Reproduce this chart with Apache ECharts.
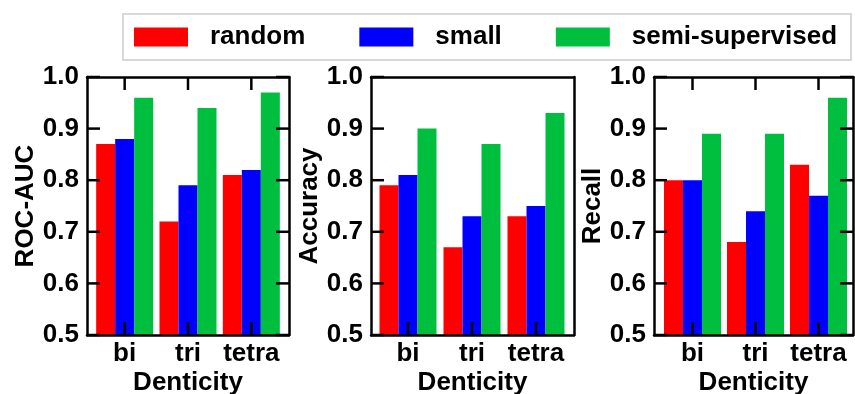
<!DOCTYPE html>
<html>
<head>
<meta charset="utf-8">
<script src="https://cdn.jsdelivr.net/npm/echarts@6/dist/echarts.min.js"></script>
<style>
  html, body { margin: 0; padding: 0; background: #fff; }
  #chart { width: 855px; height: 394px; }
</style>
</head>
<body>
<div id="chart"></div>
<script>
// data
const categories = ['bi', 'tri', 'tetra'];
const seriesNames = ['random', 'small', 'semi-supervised'];
const metricNames = ['ROC-AUC', 'Accuracy', 'Recall'];
const xLabel = 'Denticity';
const yTicks = [0.5, 0.6, 0.7, 0.8, 0.9, 1.0];

const rocRandom = [0.87, 0.72, 0.81];
const rocSmall = [0.88, 0.79, 0.82];
const rocSemi = [0.96, 0.94, 0.97];

const accRandom = [0.79, 0.67, 0.73];
const accSmall = [0.81, 0.73, 0.75];
const accSemi = [0.90, 0.87, 0.93];

const recRandom = [0.80, 0.68, 0.83];
const recSmall = [0.80, 0.74, 0.77];
const recSemi = [0.89, 0.89, 0.96];

const yMin = 0.5, yMax = 1.0, yStep = 0.1;

const panels = [
  [rocRandom, rocSmall, rocSemi],
  [accRandom, accSmall, accSemi],
  [recRandom, recSmall, recSemi]
];
const colors = ['#ff0000', '#0000ff', '#00bf3f'];

const chart = echarts.init(document.getElementById('chart'));

const font = 'Liberation Sans';
const txt = { color: '#000', fontSize: 26, fontWeight: 'bold', fontFamily: font };
const TOP = 77, H = 258, TICK = 13, TW = 2.5;

// outer frame box of each panel, and the (slightly narrower) band area the bars use
const frameLefts = [87, 371, 654];
const frameWidths = [202, 203, 199];
const barLefts = [93, 376, 661];
const barWidths = [190, 192, 189];

const grids = [], xAxes = [], yAxes = [], series = [];
const addGrid = g => { grids.push(Object.assign({ outerBoundsMode: 'none', containLabel: false }, g)); return grids.length - 1; };
const line = () => ({ show: true, onZero: false, lineStyle: { color: '#000', width: TW } });
const tickRect = (x, y, w, h) => ({ type: 'rect', shape: { x: x, y: y, width: w, height: h }, style: { fill: '#000' } });

panels.forEach((panel, p) => {
  const showOuterTicks = p !== 1; // middle panel has no top/right ticks
  const gFrame = addGrid({ left: frameLefts[p], width: frameWidths[p], top: TOP, height: H });
  const gBars = addGrid({ left: barLefts[p], width: barWidths[p], top: TOP, height: H });

  // frame: plain lines on all four sides
  const xFrame = xAxes.length;
  xAxes.push({
    gridIndex: gFrame, type: 'value', position: 'bottom', min: 0, max: 1, z: 10,
    axisLine: line(), axisTick: { show: false }, axisLabel: { show: false }, splitLine: { show: false },
    name: xLabel, nameLocation: 'middle', nameGap: 35, nameTextStyle: txt
  });
  xAxes.push({
    gridIndex: gFrame, type: 'value', position: 'top', min: 0, max: 1, z: 10,
    axisLine: line(), axisTick: { show: false }, axisLabel: { show: false }, splitLine: { show: false }
  });
  const yFrame = yAxes.length;
  yAxes.push({
    gridIndex: gFrame, type: 'value', position: 'left', min: yMin, max: yMax, interval: yStep, z: 10,
    axisLine: line(), axisTick: { show: false },
    axisLabel: Object.assign({ formatter: v => v.toFixed(1), margin: 8 }, txt),
    splitLine: { show: false },
    name: metricNames[p], nameLocation: 'middle', nameGap: 48, nameTextStyle: txt
  });
  yAxes.push({
    gridIndex: gFrame, type: 'value', position: 'right', min: yMin, max: yMax, interval: yStep, z: 10,
    axisLine: line(), axisTick: { show: false }, axisLabel: { show: false }, splitLine: { show: false }
  });

  // category axis carrying the bars and labels
  const xBottom = xAxes.length;
  xAxes.push({
    gridIndex: gBars, type: 'category', position: 'bottom', data: categories, z: 10,
    axisLine: { show: false }, axisTick: { show: false },
    axisLabel: Object.assign({ margin: 6, interval: 0 }, txt),
    splitLine: { show: false }
  });
  const yBars = yAxes.length;
  yAxes.push({ gridIndex: gBars, type: 'value', min: yMin, max: yMax, interval: yStep, show: false });

  panel.forEach((vals, s) => {
    series.push({
      name: seriesNames[s],
      type: 'bar',
      xAxisIndex: xBottom,
      yAxisIndex: yBars,
      barWidth: 19,
      barGap: '0%',
      itemStyle: { color: colors[s] },
      data: vals
    });
  });

  // inside ticks on the left (and right) frame edges, at the y tick values
  series.push({
    type: 'custom', xAxisIndex: xFrame, yAxisIndex: yFrame, z: 10, silent: true,
    data: yTicks.map(v => [0, v]),
    renderItem: (params, api) => {
      const l = api.coord([0, api.value(1)]);
      const r = api.coord([1, api.value(1)]);
      const kids = [tickRect(l[0], l[1] - TW / 2, TICK, TW)];
      if (showOuterTicks) kids.push(tickRect(r[0] - TICK, r[1] - TW / 2, TICK, TW));
      return { type: 'group', children: kids };
    }
  });
  // inside ticks at the bottom (and top) edges, at the category centres
  series.push({
    type: 'custom', xAxisIndex: xBottom, yAxisIndex: yBars, z: 10, silent: true,
    data: categories.map((c, k) => [k, yMin]),
    renderItem: (params, api) => {
      const b = api.coord([api.value(0), yMin]);
      const t = api.coord([api.value(0), yMax]);
      const kids = [tickRect(b[0] - TW / 2, b[1] - TICK, TW, TICK)];
      if (showOuterTicks) kids.push(tickRect(t[0] - TW / 2, t[1], TW, TICK));
      return { type: 'group', children: kids };
    }
  });
});

chart.setOption({
  animation: false,
  legend: {
    data: seriesNames,
    left: 123, top: 14,
    padding: [10, 14, 10, 11],
    itemGap: 54,
    itemWidth: 54, itemHeight: 19,
    icon: 'rect',
    borderColor: '#d8d8d8', borderWidth: 2,
    textStyle: Object.assign({ padding: [0, 0, 0, 17] }, txt)
  },
  grid: grids,
  xAxis: xAxes,
  yAxis: yAxes,
  series: series
});
</script>
</body>
</html>
